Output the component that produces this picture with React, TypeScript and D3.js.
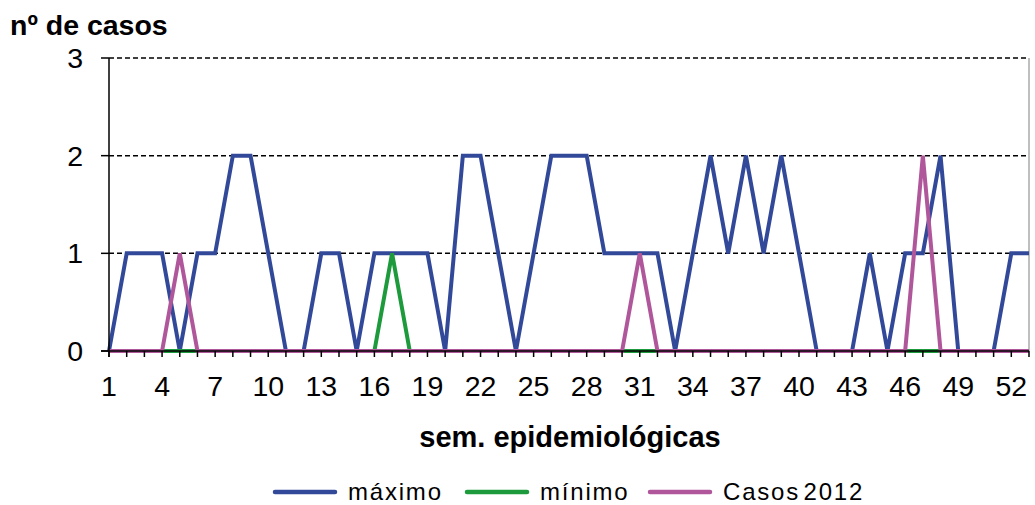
import React from "react";
import * as d3 from "d3";

const weeks = d3.range(1, 54);
const maximo = [0,1,1,1,0,1,1,2,2,1,0,0,1,1,0,1,1,1,1,0,2,2,1,0,1,2,2,2,1,1,1,1,0,1,2,1,2,1,2,1,0,0,0,1,0,1,1,2,0,0,0,1,1];
const minimo = [0,0,0,0,0,0,0,0,0,0,0,0,0,0,0,0,1,0,0,0,0,0,0,0,0,0,0,0,0,0,0,0,0,0,0,0,0,0,0,0,0,0,0,0,0,0,0,0,0,0,0,0,0];
const casos2012 = [0,0,0,0,1,0,0,0,0,0,0,0,0,0,0,0,0,0,0,0,0,0,0,0,0,0,0,0,0,0,1,0,0,0,0,0,0,0,0,0,0,0,0,0,0,0,2,0,0,0,0,0,0];
const yTicks = [0, 1, 2, 3];
const xTickLabels = d3.range(1, 54, 3);

const series = [
  { name: "máximo", values: maximo, color: "#32499a" },
  { name: "mínimo", values: minimo, color: "#1d9a3b" },
  { name: "Casos 2012", values: casos2012, color: "#b0579c" },
];

export default function App() {
  const W = 1035, H = 505;
  const x0 = 109, x1 = 1029, yTop = 58, yBot = 351;
  const x = d3.scaleLinear().domain([1, 53]).range([x0, x1]);
  const y = d3.scaleLinear().domain([0, 3]).range([yBot, yTop]);
  const line = d3.line<number>().x((_, i) => x(weeks[i])).y((d) => y(d));
  const font = "Arial, 'Liberation Sans', sans-serif";
  const legendX = [275, 467, 650];
  return (
    <svg width={W} height={H} style={{ position: "absolute", left: 0, top: 0, background: "#fff" }} fontFamily={font}>
      {yTicks.filter((t) => t > 0).map((t) => (
        <line key={t} x1={x0} x2={x1} y1={y(t)} y2={y(t)} stroke="#000" strokeWidth={1.5} strokeDasharray="5,3" />
      ))}
      <line x1={x1} x2={x1} y1={yTop} y2={yBot} stroke="#aaa" strokeWidth={1.5} />
      {series.map((s) => (
        <path key={s.name} d={line(s.values) || ""} fill="none" stroke={s.color} strokeWidth={4} strokeLinejoin="miter" />
      ))}
      <line x1={x0} x2={x0} y1={yTop} y2={yBot + 6} stroke="#000" strokeWidth={1.5} />
      <line x1={x0 - 8} x2={x1} y1={yBot} y2={yBot} stroke="#000" strokeWidth={1.5} />
      {yTicks.map((t) => (
        <g key={t}>
          <line x1={x0 - 8} x2={x0} y1={y(t)} y2={y(t)} stroke="#000" strokeWidth={1.5} />
          <text x={83} y={y(t) + 10} fontSize={28.5} textAnchor="end">{t}</text>
        </g>
      ))}
      {weeks.map((w) => (
        <line key={w} x1={x(w)} x2={x(w)} y1={yBot} y2={yBot + 6} stroke="#000" strokeWidth={1.5} />
      ))}
      {xTickLabels.map((w) => (
        <text key={w} x={x(w)} y={396} fontSize={28.5} textAnchor="middle">{w}</text>
      ))}
      <text x={10} y={35} fontSize={28.5} fontWeight="bold">nº de casos</text>
      <text x={570} y={447} fontSize={29} fontWeight="bold" textAnchor="middle">sem. epidemiológicas</text>
      {series.map((s, i) => (
        <g key={s.name}>
          <line x1={legendX[i]} x2={legendX[i] + 60} y1={492} y2={492} stroke={s.color} strokeWidth={4.5} strokeLinecap="round" />
          <text x={legendX[i] + 73} y={500} fontSize={24} letterSpacing={1.8} wordSpacing={-5}>{s.name}</text>
        </g>
      ))}
    </svg>
  );
}
